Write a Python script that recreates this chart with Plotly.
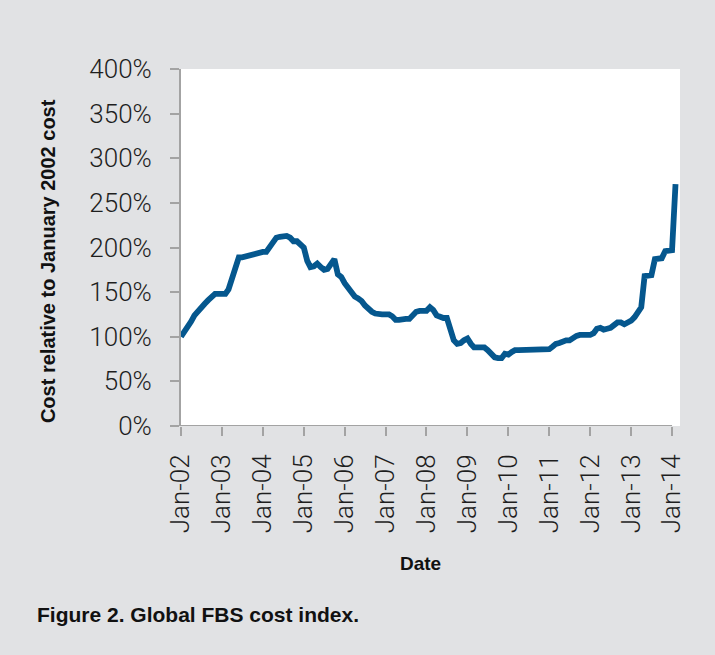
import pandas as pd
import plotly.graph_objects as go

# Monthly dates Jan 2002 .. Feb 2014
dates = pd.date_range("2002-01-01", "2014-02-01", freq="MS")

cost_2002 = [100, 106, 109, 117, 124, 129, 133, 137, 141, 145, 148, 148]
cost_2003 = [148, 148, 153, 165, 180, 189, 189, 190, 192, 192, 193, 195]
cost_2004 = [195, 195, 200, 207, 211, 212, 212, 213, 211, 207, 207, 203]
cost_2005 = [200, 185, 178, 179, 182, 178, 175, 176, 182, 187, 170, 167]
cost_2006 = [160, 154, 149, 145, 143, 140, 135, 131, 128, 126, 125, 125]
cost_2007 = [125, 125, 123, 119, 119, 120, 120, 120, 124, 128, 129, 129]
cost_2008 = [129, 133, 130, 124, 122, 121, 121, 108, 96, 92, 93, 96]
cost_2009 = [98, 92, 88, 88, 88, 88, 85, 81, 77, 76, 76, 81]
cost_2010 = [80, 83, 85, 85, 85, 85, 85, 85, 85, 85, 85, 85]
cost_2011 = [86, 89, 92, 93, 95, 96, 96, 99, 101, 102, 102, 102]
cost_2012 = [102, 104, 109, 110, 108, 109, 110, 113, 116, 116, 114, 116]
cost_2013 = [118, 122, 127, 133, 168, 169, 169, 187, 188, 188, 196, 197]
cost_2014 = [197, 271]

cost = (cost_2002 + cost_2003 + cost_2004 + cost_2005 + cost_2006 + cost_2007
        + cost_2008 + cost_2009 + cost_2010 + cost_2011 + cost_2012 + cost_2013
        + cost_2014)

tick_dates = pd.date_range("2002-01-01", "2014-01-01", freq="YS")
tick_labels = [f"Jan-{d.year % 100:02d}" for d in tick_dates]
y_ticks = [0, 50, 100, 150, 200, 250, 300, 350, 400]

BG = "#e1e2e4"
AXIS = "#a3a3a3"
LINE = "#05578e"
TICKFONT = dict(family="Roboto", size=26, color="#1e1e1e", weight=300)
BOLD = "Liberation Sans"

fig = go.Figure()
fig.add_trace(go.Scatter(x=dates, y=cost, mode="lines",
                         line=dict(color=LINE, width=5.8), hoverinfo="skip"))

fig.update_layout(
    width=715, height=655,
    margin=dict(l=181, r=35, t=69, b=229),
    paper_bgcolor=BG, plot_bgcolor="white",
    showlegend=False,
    xaxis=dict(
        range=["2002-01-01", "2014-03-13"],
        tickmode="array", tickvals=tick_dates, ticktext=tick_labels,
        tickangle=-90, tickfont=TICKFONT,
        ticks="outside", ticklen=9, tickwidth=2, tickcolor=AXIS,
        showline=False, showgrid=False, zeroline=False,
        ticklabelstandoff=8,
    ),
    yaxis=dict(
        range=[0, 400],
        tickmode="array", tickvals=y_ticks, ticktext=[f"{v}%" for v in y_ticks],
        tickfont=TICKFONT,
        ticks="outside", ticklen=9, tickwidth=2, tickcolor=AXIS,
        showline=True, linecolor=AXIS, linewidth=2,
        showgrid=False, zeroline=False,
        ticklabelstandoff=13,
    ),
)

# x axis line spanning Jan-02 .. Jan-14
fig.add_shape(type="line", xref="x", yref="y",
              x0=tick_dates[0], x1=tick_dates[-1], y0=0, y1=0,
              line=dict(color=AXIS, width=2), layer="above")

fig.add_annotation(text="<b>Cost relative to January 2002 cost</b>",
                   xref="paper", yref="paper", x=-0.2665, y=0.462,
                   xanchor="center", yanchor="middle", textangle=-90,
                   showarrow=False,
                   font=dict(family=BOLD, size=20, color="#111"))
fig.add_annotation(text="<b>Date</b>",
                   xref="paper", yref="paper", x=0.479, y=-0.384,
                   xanchor="center", yanchor="middle", showarrow=False,
                   font=dict(family=BOLD, size=19, color="#111"))
fig.add_annotation(text="<b>Figure 2. Global FBS cost index.</b>",
                   xref="paper", yref="paper", x=-0.2926, y=-0.527,
                   xanchor="left", yanchor="middle", showarrow=False,
                   font=dict(family=BOLD, size=21, color="#111"))

fig.write_html("out.html",
               config={"displayModeBar": False, "staticPlot": True},
               post_script="document.body.style.margin='0';"
                           "document.body.style.overflow='hidden';")
